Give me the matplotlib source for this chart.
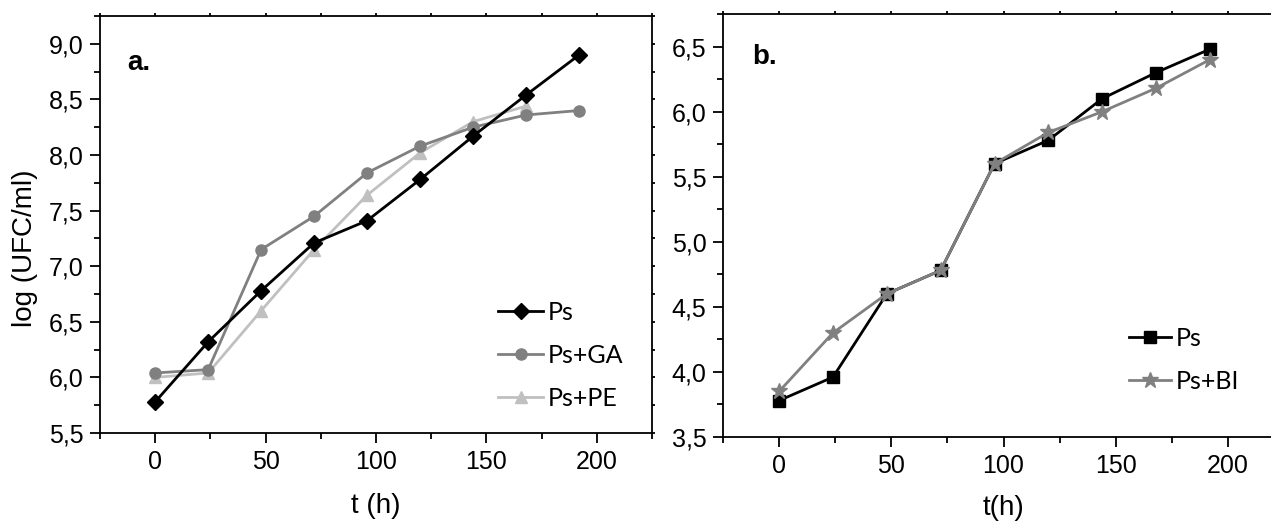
import matplotlib
matplotlib.use("Agg")
import matplotlib.pyplot as plt
from matplotlib.ticker import MultipleLocator, FuncFormatter

# sampling times (h)
t_a = [0, 24, 48, 72, 96, 120, 144, 168, 192]
t_pe = [0, 24, 48, 72, 96, 120, 144, 168]
t_b = [0, 24, 48, 72, 96, 120, 144, 168, 192]

# panel a: log(UFC/ml)
ps_a = [5.78, 6.32, 6.78, 7.21, 7.41, 7.78, 8.17, 8.54, 8.90]
ps_ga = [6.04, 6.07, 7.15, 7.45, 7.84, 8.08, 8.25, 8.36, 8.40]
ps_pe = [6.00, 6.04, 6.60, 7.15, 7.64, 8.02, 8.30, 8.44]

# panel b
ps_b = [3.78, 3.96, 4.60, 4.78, 5.60, 5.78, 6.10, 6.30, 6.48]
ps_bi = [3.85, 4.30, 4.60, 4.78, 5.60, 5.84, 6.00, 6.18, 6.40]

plt.rcParams["font.family"] = ["Liberation Sans", "DejaVu Sans"]

comma = FuncFormatter(lambda v, pos: f"{v:.1f}".replace(".", ","))


def style_axes(ax, ylim):
    ax.set_xlim(-25, 225)
    ax.set_ylim(*ylim)
    ax.xaxis.set_major_locator(MultipleLocator(50))
    ax.xaxis.set_minor_locator(MultipleLocator(25))
    ax.yaxis.set_major_locator(MultipleLocator(0.5))
    ax.yaxis.set_minor_locator(MultipleLocator(0.25))
    ax.yaxis.set_major_formatter(comma)
    for s in ax.spines.values():
        s.set_linewidth(1.3)
    ax.tick_params(which="major", direction="out", length=7, width=1.3,
                   labelsize=18, pad=5)
    ax.tick_params(which="minor", direction="out", length=4, width=1.3)
    ax.tick_params(which="both", top=True, right=True)
    # short marks on the mirrored top/right axes
    for t in ax.xaxis.get_ticklines(minor=False)[1::2] + ax.xaxis.get_ticklines(minor=True)[1::2]:
        t.set_markersize(2)
    for t in ax.yaxis.get_ticklines(minor=False)[1::2] + ax.yaxis.get_ticklines(minor=True)[1::2]:
        t.set_markersize(2)


fig = plt.figure(figsize=(12.71, 5.22), dpi=100)
ax1 = fig.add_axes([100 / 1271, 89 / 522, 552 / 1271, 417 / 522])
ax2 = fig.add_axes([723 / 1271, 85 / 522, 561 / 1271, 423 / 522])

lw = 2.0
ax1.plot(t_a, ps_a, color="black", lw=lw, marker="D", ms=8, label="Ps", zorder=4)
ax1.plot(t_a, ps_ga, color="#808080", lw=lw, marker="o", ms=8, label="Ps+GA", zorder=3)
ax1.plot(t_pe, ps_pe, color="#c0c0c0", lw=lw, marker="^", ms=9, label="Ps+PE", zorder=2)
style_axes(ax1, (5.5, 9.25))
ax1.set_xlabel("t (h)", fontsize=20)
ax1.set_ylabel("log (UFC/ml)", fontsize=20)
ax1.xaxis.set_label_coords(0.5, -0.145)
ax1.yaxis.set_label_coords(-0.113, 0.444)
ax1.text(0.05, 0.887, "a.", transform=ax1.transAxes, fontsize=20,
         fontweight="bold", va="center", ha="left")
ax1.legend(loc="upper left", bbox_to_anchor=(0.703, 0.34), frameon=False,
           prop={"family": "Lato", "size": 18}, handlelength=1.8,
           handletextpad=0.2, labelspacing=0.8, borderaxespad=0)

ax2.plot(t_b, ps_b, color="black", lw=lw, marker="s", ms=8, label="Ps", zorder=3)
ax2.plot(t_b, ps_bi, color="#808080", lw=lw, marker="*", ms=12, label="Ps+BI", zorder=4)
style_axes(ax2, (3.5, 6.75))
ax2.set_xlabel("t(h)", fontsize=20)
ax2.xaxis.set_label_coords(0.5, -0.138)
ax2.text(0.052, 0.898, "b.", transform=ax2.transAxes, fontsize=20,
         fontweight="bold", va="center", ha="left")
ax2.legend(loc="upper left", bbox_to_anchor=(0.705, 0.284), frameon=False,
           prop={"family": "Lato", "size": 18}, handlelength=1.7,
           handletextpad=0.2, labelspacing=0.8, borderaxespad=0)

fig.savefig("out.png", dpi=100)
